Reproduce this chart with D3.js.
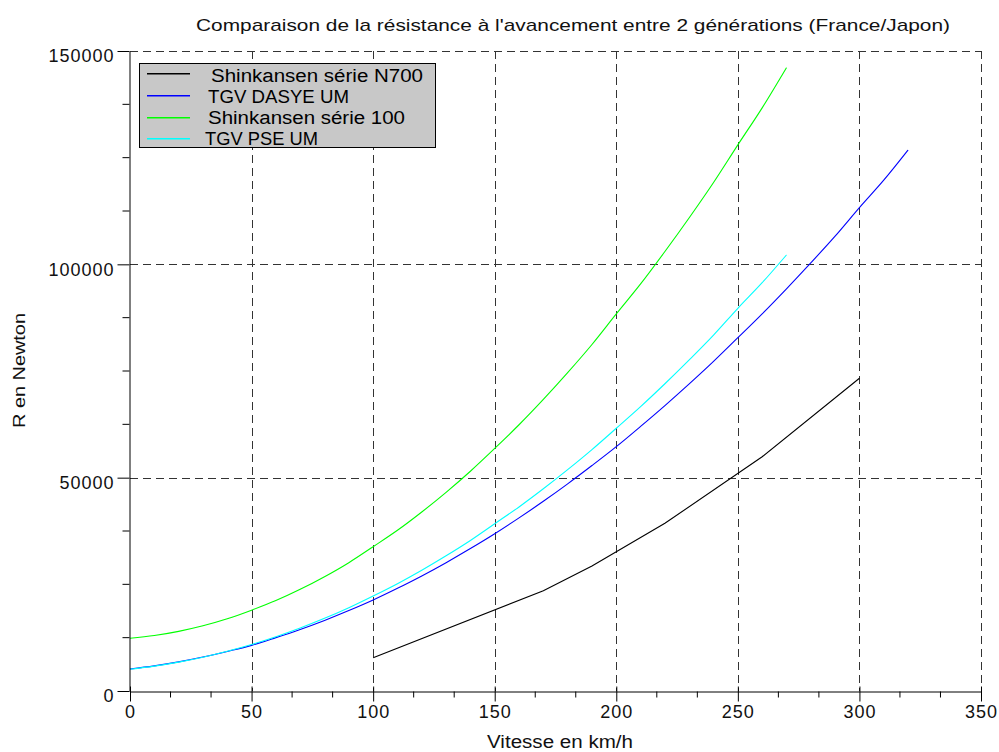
<!DOCTYPE html>
<html>
<head>
<meta charset="utf-8">
<script src="https://cdn.jsdelivr.net/npm/d3@7"></script>
<style>
  html, body { margin: 0; padding: 0; background: #fff; }
  svg { display: block; font-family: "Liberation Sans", Arial, sans-serif; }
</style>
</head>
<body>
<svg id="chart" width="999" height="752"></svg>
<script>
// ---- Data ----
const chartTitle = "Comparaison de la résistance à l'avancement entre 2 générations (France/Japon)";
const xLabel = "Vitesse en km/h";
const yLabel = "R en Newton";

const xTicks = [0, 50, 100, 150, 200, 250, 300, 350];
const yTicks = [0, 50000, 100000, 150000];

// Shinkansen série N700 (black)
const n700Speed = [100, 170, 190, 220, 260, 300];
const n700R     = [7810, 23500, 29300, 39300, 54900, 73300];

// TGV DASYE UM (blue)
const dasyeSpeed = [0,10,20,30,40,50,60,70,80,90,100,110,120,130,140,150,160,170,180,190,200,210,220,230,240,250,260,270,280,290,300,310,320];
const dasyeR     = [5160,5890,6820,7950,9270,10700,12510,14430,16540,18850,21330,24070,26970,30080,33380,36850,40570,44460,48550,52840,57270,62020,66900,71980,77250,82800,88400,94270,100340,106610,113300,119730,126800];

// Shinkansen série 100 (green)
const s100Speed = [0,10,20,30,40,50,60,70,80,90,100,110,120,130,140,150,160,170,180,190,200,210,220,230,240,250,260,270];
const s100R     = [12350,13000,13980,15280,16920,18950,21200,23830,26790,30080,33820,37660,41950,46560,51510,56850,62400,68340,74610,81210,88370,95400,103000,110920,119180,128000,136680,146100];

// TGV PSE UM (cyan)
const pseSpeed = [0,10,20,30,40,50,60,70,80,90,100,110,120,130,140,150,160,170,180,190,200,210,220,230,240,250,260,270];
const pseR     = [5100,5820,6760,7910,9300,10900,12720,14770,17030,19520,22270,25160,28310,31690,35280,39200,43140,47390,51880,56580,61580,66650,72010,77600,83410,89700,95690,102200];

const seriesNames  = ["Shinkansen série N700", "TGV DASYE UM", "Shinkansen série 100", "TGV PSE UM"];
const seriesColors = ["#000000", "#0000ff", "#00ff00", "#00ffff"];

// ---- Build ----
const series = [
  { name: seriesNames[0], color: seriesColors[0], pts: n700Speed.map((v,i)=>[v, n700R[i]]), curve: d3.curveLinear },
  { name: seriesNames[1], color: seriesColors[1], pts: dasyeSpeed.map((v,i)=>[v, dasyeR[i]]), curve: d3.curveMonotoneX },
  { name: seriesNames[2], color: seriesColors[2], pts: s100Speed.map((v,i)=>[v, s100R[i]]), curve: d3.curveMonotoneX },
  { name: seriesNames[3], color: seriesColors[3], pts: pseSpeed.map((v,i)=>[v, pseR[i]]), curve: d3.curveMonotoneX }
];

const svg = d3.select("#chart");
const L = 130, R = 981, T = 51, B = 691;

const x = d3.scaleLinear().domain([0, 350]).range([L, R]);
const y = d3.scaleLinear().domain([0, 150000]).range([B, T]);

// Grid (dashed)
const grid = svg.append("g").attr("stroke", "#333").attr("stroke-width", 1).attr("stroke-dasharray", "8,5");
grid.selectAll("line.v").data(xTicks.filter(d => d > 0)).join("line")
  .attr("x1", d => Math.round(x(d)) + 0.5).attr("x2", d => Math.round(x(d)) + 0.5)
  .attr("y1", T).attr("y2", B);
grid.selectAll("line.h").data(yTicks.filter(d => d > 0)).join("line")
  .attr("x1", L).attr("x2", R)
  .attr("y1", d => Math.round(y(d)) + 0.5).attr("y2", d => Math.round(y(d)) + 0.5);

// Series lines
const lineGen = d3.line().x(d => x(d[0])).y(d => y(d[1]));
svg.append("g").selectAll("path").data(series).join("path")
  .attr("fill", "none")
  .attr("stroke", d => d.color)
  .attr("stroke-width", 1.1)
  .attr("d", d => lineGen.curve(d.curve)(d.pts));

// X axis
const xMinor = d3.range(0, 350.001, 50/3).filter(v => Math.abs(v/50 - Math.round(v/50)) > 0.01);
const xAxis = svg.append("g").attr("transform", `translate(0,${B + 0.5})`)
  .call(d3.axisBottom(x).tickValues(xTicks).tickSize(10).tickSizeOuter(0).tickFormat(d3.format("d")));
xAxis.select(".domain").attr("stroke", "#000");
xAxis.selectAll(".tick line").attr("y1", -5).attr("stroke", "#000");
xAxis.selectAll(".tick text").attr("font-size", 18).attr("letter-spacing", 1)
  .attr("font-family", "Liberation Sans, Arial, sans-serif").attr("fill", "#111").attr("y", 14);
xAxis.selectAll("line.minor").data(xMinor).join("line").attr("class", "minor")
  .attr("x1", d => x(d)).attr("x2", d => x(d)).attr("y1", 0).attr("y2", 6).attr("stroke", "#000");

// Y axis
const yMinor = d3.range(0, 150001, 12500).filter(v => v % 50000 !== 0);
const yAxis = svg.append("g").attr("transform", `translate(${L - 0.5},0)`)
  .call(d3.axisLeft(y).tickValues(yTicks).tickSize(12).tickSizeOuter(0).tickFormat(d3.format("d")));
yAxis.select(".domain").attr("stroke", "#000");
yAxis.selectAll(".tick line").attr("stroke", "#000");
yAxis.selectAll(".tick text").attr("font-size", 18).attr("letter-spacing", 1)
  .attr("font-family", "Liberation Sans, Arial, sans-serif").attr("fill", "#111")
  .attr("x", -15).attr("dy", "0.6em");
yAxis.selectAll("line.minor").data(yMinor).join("line").attr("class", "minor")
  .attr("x1", -7).attr("x2", 0).attr("y1", d => y(d)).attr("y2", d => y(d)).attr("stroke", "#000");

// Title & axis labels
svg.append("text").attr("x", 196).attr("y", 31).attr("font-size", 17).attr("fill", "#111")
  .attr("textLength", 754).attr("lengthAdjust", "spacingAndGlyphs").text(chartTitle);
svg.append("text").attr("x", 487).attr("y", 748).attr("font-size", 18).attr("fill", "#111")
  .attr("textLength", 146).attr("lengthAdjust", "spacingAndGlyphs").text(xLabel);
svg.append("text").attr("transform", "translate(25,428) rotate(-90)").attr("font-size", 17).attr("fill", "#111")
  .attr("textLength", 115).attr("lengthAdjust", "spacingAndGlyphs").text(yLabel);

// Legend
const legend = svg.append("g");
legend.append("rect").attr("x", 139.5).attr("y", 63.5).attr("width", 296).attr("height", 84)
  .attr("fill", "#c8c8c8").attr("stroke", "#000").attr("stroke-width", 1);
const legRows = [
  { lineY: 73, textX: 211, baseY: 82, len: 212 },
  { lineY: 95, textX: 208, baseY: 103, len: 141 },
  { lineY: 117, textX: 208, baseY: 124, len: 197 },
  { lineY: 138, textX: 205, baseY: 145, len: 113 }
];
series.forEach((s, i) => {
  const r = legRows[i];
  legend.append("rect")
    .attr("x", 147).attr("y", r.lineY).attr("width", 43).attr("height", 1.5)
    .attr("fill", s.color);
  legend.append("text").attr("x", r.textX).attr("y", r.baseY)
    .attr("font-size", 18).attr("fill", "#000")
    .attr("textLength", r.len).attr("lengthAdjust", "spacingAndGlyphs")
    .text(s.name);
});
</script>
</body>
</html>
